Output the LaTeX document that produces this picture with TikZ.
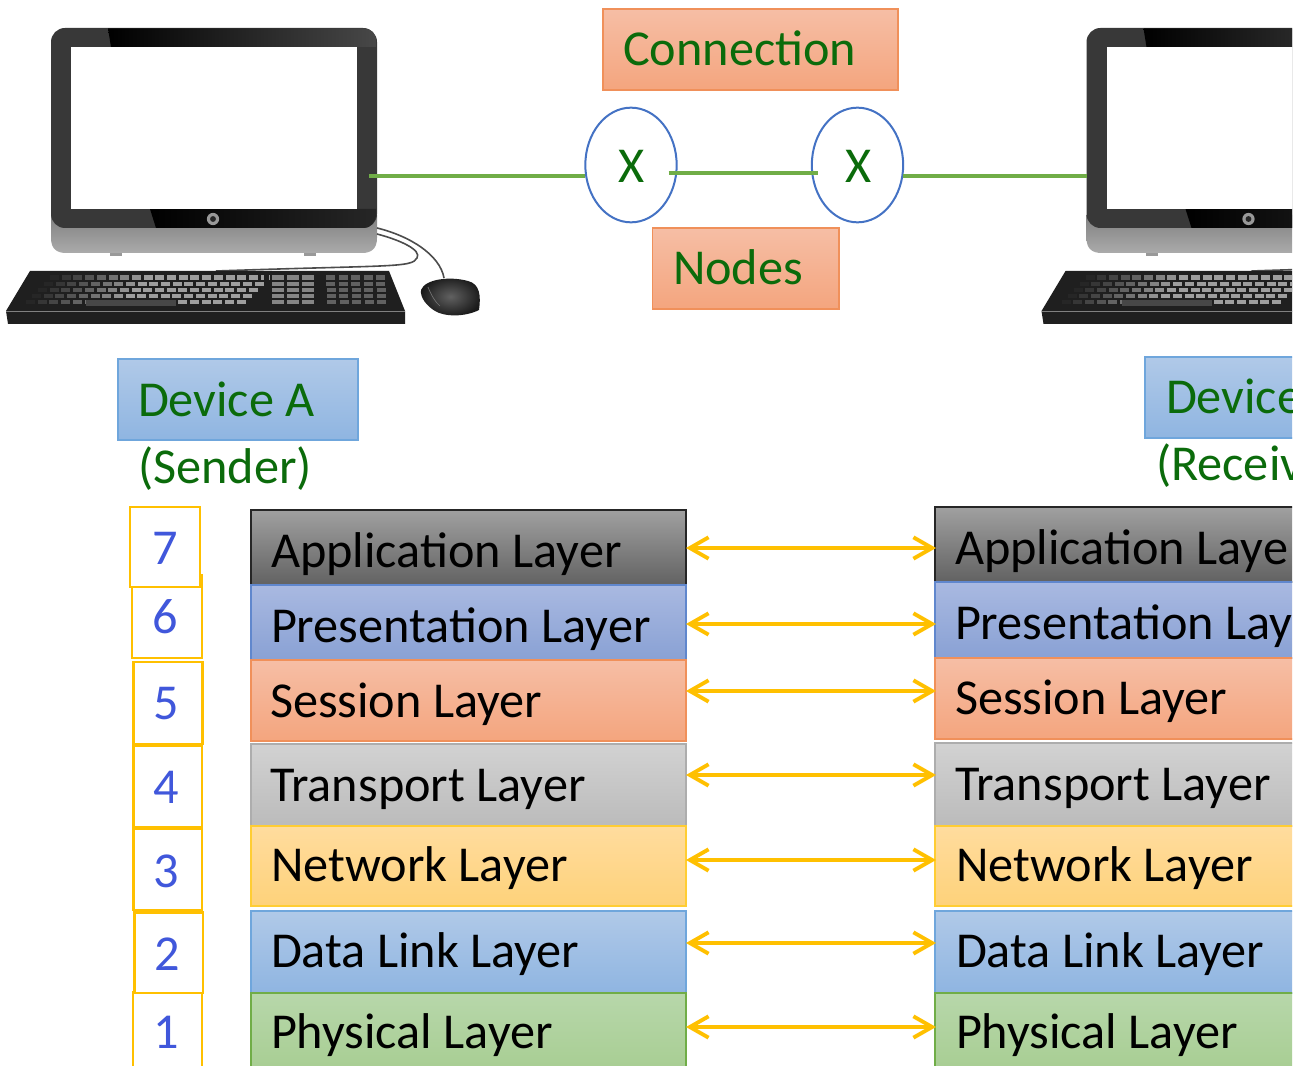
\documentclass[tikz,border=0pt]{standalone}
\usepackage{fontspec}
\setmainfont{Carlito}
\usetikzlibrary{arrows.meta,shapes.geometric,calc}
\definecolor{txtgreen}{HTML}{0B6B0B}
\definecolor{numblue}{HTML}{4057DB}
\definecolor{amber}{HTML}{FFC000}
\definecolor{linegreen}{HTML}{70AD47}
\definecolor{ringblue}{HTML}{4472C4}
\definecolor{orangeT}{HTML}{F6BEA5}
\definecolor{orangeB}{HTML}{F4A57E}
\definecolor{orangeE}{HTML}{F0905A}
\definecolor{blueT}{HTML}{B0C9E8}
\definecolor{blueB}{HTML}{8FB5E1}
\definecolor{blueE}{HTML}{6FA6DC}
\definecolor{grayT}{HTML}{A0A0A0}
\definecolor{grayB}{HTML}{626262}
\definecolor{presT}{HTML}{A9B9E1}
\definecolor{presB}{HTML}{89A1D4}
\definecolor{transT}{HTML}{D2D2D2}
\definecolor{transB}{HTML}{BBBBBB}
\definecolor{netT}{HTML}{FFDC9E}
\definecolor{netB}{HTML}{FED27A}
\definecolor{physT}{HTML}{B7D7AA}
\definecolor{physB}{HTML}{A2CA8A}
\tikzset{
  every node/.style={inner sep=0pt,outer sep=0pt},
  big/.style={font=\fontsize{37.7}{40}\selectfont},
  labeltext/.style={big,anchor=base west,text=black},
  greentext/.style={big,anchor=base west,text=txtgreen},
  numtext/.style={big,anchor=base,text=numblue},
  orangebox/.style={draw=orangeE,line width=.8pt,top color=orangeT,bottom color=orangeB},
  bluebox/.style={draw=blueE,line width=.8pt,top color=blueT,bottom color=blueB},
  applayer/.style={draw=black!85,line width=.8pt,top color=grayT,bottom color=grayB},
  preslayer/.style={draw=ringblue!85,line width=.8pt,top color=presT,bottom color=presB},
  translayer/.style={draw=black!32,line width=.8pt,top color=transT,bottom color=transB},
  netlayer/.style={draw=amber!80,line width=.8pt,top color=netT,bottom color=netB},
  physlayer/.style={draw=linegreen,line width=.8pt,top color=physT,bottom color=physB},
  numbox/.style={draw=amber,line width=2.2pt,fill=white},
  wire/.style={draw=linegreen,line width=2.6pt},
  ring/.style={draw=ringblue,line width=1.5pt,fill=white,ellipse,minimum width=68.5pt,minimum height=86pt},
  biarrow/.style={draw=amber,line width=2.9pt,{Straight Barb[length=14pt,width=16pt,line width=2.9pt]}-{Straight Barb[length=14pt,width=16pt,line width=2.9pt]}},
  cable/.style={draw=black!70,line width=1.2pt},
  computer/.pic={
    % stand
    \fill[black!40] (110,250) rectangle (122,256);
    \fill[black!40] (304,250) rectangle (316,256);
    \path[top color=black!50,bottom color=black!33]
      (51,215) -- (377,215) -- (377,238) .. controls (377,249) and (371,253) .. (362,253)
      -- (66,253) .. controls (57,253) and (51,249) .. (51,238) -- cycle;
    % frame
    \fill[black!78,rounded corners=10.5pt] (51,28) rectangle (377,228);
    \path[left color=black,right color=black!72] (108,28.4) -- (365,28.4) .. controls (371,29) and (375,33) .. (376,39) -- (376,47) -- (111,47) -- cycle;
    \path[left color=black,right color=black!85] (150,209) -- (376,209) -- (376,216) .. controls (375,223) and (370,228) .. (364,228) -- (156,228) -- cycle;
    \fill[white] (71,47) rectangle (357,209);
    \fill[black!40] (213,219) circle (4.6pt);
    \fill[black!85] (213,219) circle (2.2pt);
    % cables
    \draw[cable] (377,228) .. controls (410,236) and (440,255) .. (444,278);
    \draw[cable] (377,234) .. controls (400,240) and (422,250) .. (417,258)
       .. controls (412,268) and (390,265) .. (216,271);
    % keyboard
    \fill[black!88] (30,271) -- (389,271) -- (405,311) -- (405,324) -- (8,324) -- (6,311) -- cycle;
    \draw[black!50,line width=.7pt] (6,311) -- (405,311);
    \foreach \r in {0,...,4}{
      \foreach \k in {0,...,18}{
        \pgfmathsetmacro{\kx}{50-6*\r+11.7*\k}
        \pgfmathsetmacro{\kw}{max(38,85-6*\k)}
        \fill[black!\kw] (\kx,{275.5+6.1*\r}) rectangle ++(9,4.3);
      }
      \foreach \k in {0,...,2}{
        \fill[black!48] ({272+15*\k},{275.5+6.1*\r}) rectangle ++(11.5,4.3);
      }
      \foreach \k in {0,...,4}{
        \fill[black!62] ({326+12.5*\k+.25*\r},{275.5+6.1*\r}) rectangle ++(9,4.3);
      }
    }
    \fill[black!88] (264,271.5) rectangle (269,310);
    \fill[black!88] (316,271.5) rectangle (321,310);
    \fill[black!72] (86,300.4) rectangle (176,306);
    % mouse
    \path[inner color=black!62,outer color=black!90]
      (421,290) .. controls (425,279) and (450,276) .. (468,281)
      .. controls (480,284) and (481,296) .. (479,310)
      .. controls (465,317) and (445,317) .. (435,311)
      .. controls (427,306) and (420,298) .. (421,290) -- cycle;
    \draw[black!55,line width=.5pt] (428,287) .. controls (431,295) and (436,303) .. (440,306);
  }
}
% name, x1, y1, x2, y2, style
\newcommand{\rectnode}[6]{%
  \node[#6,minimum width={(#4-#2)*.75pt},minimum height={(#5-#3)*.75pt}] (#1) at ({(#2+#4)/2},{(#3+#5)/2}) {};}
\begin{document}
\begin{tikzpicture}[x=.75pt,y=-.75pt]
\useasboundingbox (0,0) rectangle (1303,1066);
\fill[white] (0,0) rectangle (1303,1066);
\clip (0,0) rectangle (1292,1066);

\pic at (0,0) {computer};
\pic at (1035.5,0) {computer};
\coordinate (monA) at (369,176);
\coordinate (monB) at (1087,176);

% top labels
\rectnode{connbox}{603}{9}{898}{90}{orangebox}
\rectnode{nodesbox}{652.5}{228}{839}{309}{orangebox}
\node[greentext] (conntext) at (623,65.5) {Connection};
\node[greentext] (nodestext) at (673,285) {Nodes};

% network nodes
\node[ring] (nl) at (631,165) {};
\node[ring] (nr) at (857.5,165) {};
\node[greentext,anchor=base] (xl) at (632,183) {X};
\node[greentext,anchor=base] (xr) at (859,183) {X};
\draw[wire] (monA) -- (monA -| nl.west);
\draw[wire] ([shift={(-8,8)}]nl.east) -- ([shift={(6,8)}]nr.west);
\draw[wire] (monB -| nr.east) -- (monB);

% devices
\rectnode{devabox}{118}{359}{358}{440}{bluebox}
\rectnode{devbbox}{1145}{357}{1400}{438}{bluebox}
\node[greentext] (devatext) at (138,416) {Device A};
\node[greentext] (devbtext) at (1166,413) {Device};
\node[greentext] (sender) at (138,483) {(Sender)};
\node[greentext] (receiver) at (1156,480) {(Receiv};

% number boxes
\rectnode{b6}{132}{575}{202}{658}{numbox}
\rectnode{b7}{130}{507}{200}{587}{numbox}
\rectnode{b5}{133.5}{662}{202.5}{744}{numbox}
\rectnode{b4}{133.5}{746}{202}{827}{numbox}
\rectnode{b3}{133.5}{829}{202}{910}{numbox}
\rectnode{b1}{133}{992}{202}{1100}{numbox}
\rectnode{b2}{134.5}{912.5}{203}{993}{numbox}
\foreach \n/\x/\y in {7/165/564,6/165/633,5/166/719,4/166/803,3/166/887,2/167/970,1/166/1048}
  \node[numtext] (num\n) at (\x,\y) {\n};

% left stack
\rectnode{al}{251}{510}{686}{585}{applayer}
\rectnode{pl}{251}{585}{686}{660}{preslayer}
\rectnode{sl}{251}{660}{686}{741}{orangebox}
\rectnode{tl}{251}{744}{686}{826}{translayer}
\rectnode{nel}{251}{826}{686}{906}{netlayer}
\rectnode{dl}{251}{911}{686}{993}{bluebox}
\rectnode{phl}{251}{993}{686}{1100}{physlayer}
% right stack
\rectnode{ar}{935}{507}{1400}{582}{applayer}
\rectnode{pr}{935}{582}{1400}{658}{preslayer}
\rectnode{sr}{935}{658}{1400}{739}{orangebox}
\rectnode{tr}{935}{743}{1400}{826}{translayer}
\rectnode{ner}{935}{826}{1400}{906}{netlayer}
\rectnode{dr}{935}{911}{1400}{993}{bluebox}
\rectnode{phr}{935}{993}{1400}{1100}{physlayer}

\node[labeltext] (altext) at (271,567) {Application Layer};
\node[labeltext] (pltext) at (271,642) {Presentation Layer};
\node[labeltext] (sltext) at (270,717) {Session Layer};
\node[labeltext] (tltext) at (270,801) {Transport Layer};
\node[labeltext] (neltext) at (271,881) {Network Layer};
\node[labeltext] (dltext) at (271,967.5) {Data Link Layer};
\node[labeltext] (phltext) at (271,1048.5) {Physical Layer};
\node[labeltext] (artext) at (955,564) {Application Laye};
\node[labeltext] (prtext) at (955,639.5) {Presentation Lay};
\node[labeltext] (srtext) at (955,714.5) {Session Layer};
\node[labeltext] (trtext) at (955,800.5) {Transport Layer};
\node[labeltext] (nertext) at (956,881) {Network Layer};
\node[labeltext] (drtext) at (956,967.5) {Data Link Layer};
\node[labeltext] (phrtext) at (956,1048.5) {Physical Layer};

% peer arrows: left node, right node, arrow y
\foreach \a/\b/\y in {al/ar/548,pl/pr/624,sl/sr/691,tl/tr/775,nel/ner/860,dl/dr/943,phl/phr/1027}{
  \coordinate (rowy) at (0,\y);
  \draw[biarrow] ($(\a.east |- rowy)+(0,0)$) -- ($(\b.west |- rowy)+(1,0)$);
}
\end{tikzpicture}
\end{document}
